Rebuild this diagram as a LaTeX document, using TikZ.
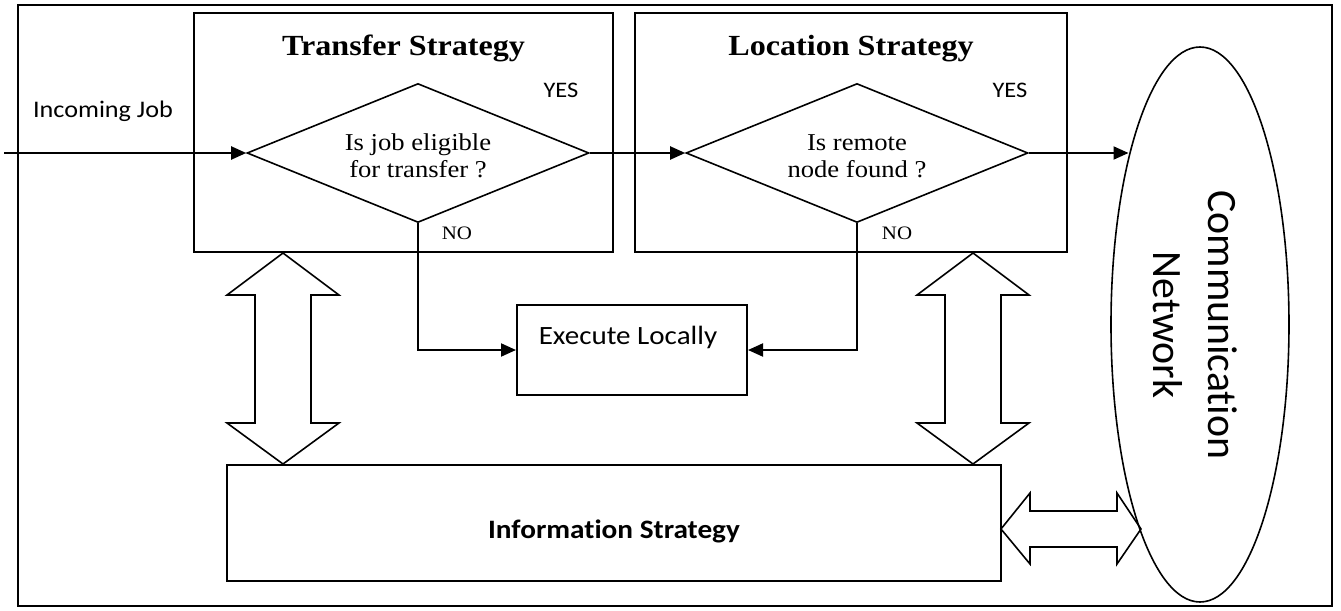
\documentclass[tikz,border=0pt]{standalone}
\usepackage{fontspec}
\setmainfont{Liberation Serif}
\newfontfamily\calfont[Ligatures=NoCommon]{Carlito}
\usetikzlibrary{arrows.meta,shapes.geometric,fit,calc}
\newcommand\hstr[1]{\scalebox{1.1}[1]{#1}}
\newcommand\lowr[1]{\raisebox{-3pt}[\height][\depth]{#1}}
\begin{document}
\begin{tikzpicture}[x=0.5pt,y=-0.5pt,
  box/.style={draw,line width=1pt,inner sep=0pt},
  dia/.style={draw,diamond,line width=0.8pt,inner sep=0pt,minimum width=171pt,minimum height=69.5pt,aspect=2.46},
  arr/.style={line width=1pt,-{Triangle[length=7.5pt,width=6.5pt]}},
  dbl/.style={draw,line width=0.8pt,fill=white,line join=miter},
  title/.style={anchor=base,font=\fontsize{14.6}{17}\selectfont\bfseries},
  yes/.style={anchor=base,font=\calfont\fontsize{11.1}{13}\selectfont},
  no/.style={anchor=base,font=\fontsize{9.5}{11}\selectfont},
  diatext/.style={font=\fontsize{12.1}{13.5}\selectfont}
]
\useasboundingbox (0,0) rectangle (1341,611);
% outer frame
\node[box,fit={(18,5) (1332,606)}] (frame) {};
% strategy boxes
\node[box,fit={(194,13) (613,252)}] (transfer) {};
\node[box,fit={(635,13) (1067,252)}] (location) {};
\node[box,fit={(517,305) (747,395)}] (exec) {};
\node[box,fit={(227,465) (1001,581)}] (info) {};
% titles
\node[title] (ttitle) at (403.5,55) {\hstr{Transfer Strategy}};
\node[title] (ltitle) at (851,55) {\hstr{Location Strategy}};
% diamonds
\node[dia,diatext] (td) at (418,153) {\lowr{\hstr{\begin{tabular}{@{}c@{}}Is job eligible\\for transfer ?\end{tabular}}}};
\node[dia,diatext] (ld) at (857,153) {\lowr{\hstr{\begin{tabular}{@{}c@{}}Is remote\\node found ?\end{tabular}}}};
% yes / no labels
\node[yes] (tyes) at (561,97) {\hstr{YES}};
\node[yes] (lyes) at (1010,97) {\hstr{YES}};
\node[no] (tno) at (457,239) {\hstr{NO}};
\node[no] (lno) at (897,239) {\hstr{NO}};
% texts
\node[anchor=base,font=\calfont\fontsize{11.9}{14}\selectfont] (inlbl) at (103,117) {\hstr{Incoming Job}};
\node[anchor=base,font=\calfont\fontsize{13.2}{16}\selectfont] (execlbl) at (628,344) {\hstr{Execute Locally}};
\node[anchor=base,font=\calfont\fontsize{13.3}{16}\selectfont\bfseries] (infolbl) at (614,538) {\hstr{Information Strategy}};
% double arrows
\draw[dbl] (283,253) -- (339,295) -- (311,295) -- (311,423) -- (339,423) -- (283,464) -- (227,423) -- (255,423) -- (255,295) -- (227,295) -- cycle;
\draw[dbl] (973,253) -- (1029,295) -- (1001,295) -- (1001,423) -- (1029,423) -- (973,464) -- (917,423) -- (945,423) -- (945,295) -- (917,295) -- cycle;
\draw[dbl] (1001,529) -- (1030,493) -- (1030,511) -- (1117,511) -- (1117,493) -- (1141,529) -- (1117,564) -- (1117,547) -- (1030,547) -- (1030,564) -- cycle;
% network ellipse
\node[draw,ellipse,line width=0.8pt,inner sep=0pt,minimum width=89pt,minimum height=277.5pt] (net) at (1200,324.5) {};
\node[rotate=-90,align=center,font=\calfont\fontsize{20.9}{27.5}\selectfont] (netlbl) at (1195,325) {Communication\\Network};
% connectors
\coordinate (inc) at (4,153);
\draw[arr] (inc) -- (td.west);
\draw[arr] (td.east) -- (ld.west);
\draw[arr] (ld.east) -- (ld.east -| net.113.1);
\draw[arr] (td.south) |- (exec.west);
\draw[arr] (ld.south) |- (exec.east);
\end{tikzpicture}
\end{document}
